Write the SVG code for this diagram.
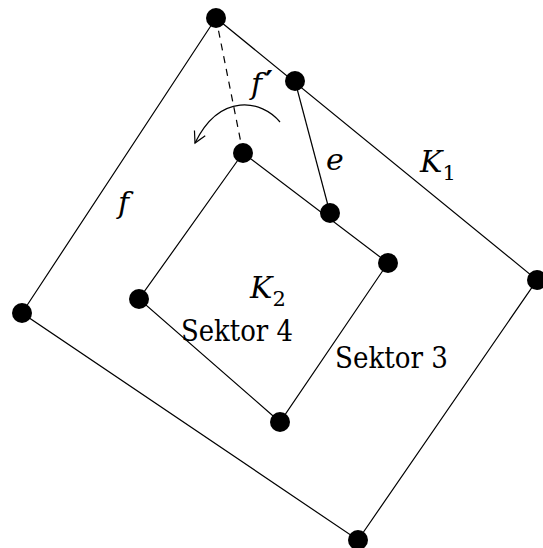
<svg xmlns="http://www.w3.org/2000/svg" width="543" height="548" viewBox="0 0 543 548">
<style>
.l{stroke:#000;stroke-width:1.2;fill:none}
.d{stroke:#000;stroke-width:1.2;fill:none;stroke-dasharray:7,6}
.n{fill:#000}
text{font-size:30px;fill:#000}
.m{font-style:italic}
.s{font-size:21px;font-style:normal}
.p{font-size:30px;font-style:normal;font-weight:bold}
</style>
<defs>
<marker id="ah" markerWidth="14" markerHeight="14" refX="12" refY="7" orient="auto" markerUnits="userSpaceOnUse">
<path d="M1,1 L12,7 L1,13" fill="none" stroke="#000" stroke-width="1.2"/>
</marker>
</defs>
<rect width="543" height="548" fill="#fff"/>
<g id="connectors">
<polyline class="l" points="216,18 537,280 358,540 22,313 216,18"/>
<polyline class="l" points="243,153 388,263 280,422 139,299 243,153"/>
<line class="l" x1="295" y1="81" x2="330" y2="213"/>
<line class="d" x1="216" y1="18" x2="243" y2="153"/>
<path class="l" d="M280,122 C262,100 220,92 195,143" marker-end="url(#ah)"/>
</g>
<g id="n1"><circle class="n" cx="216" cy="18" r="10"/></g>
<g id="n2"><circle class="n" cx="295" cy="81" r="10"/></g>
<g id="n3"><circle class="n" cx="537" cy="280" r="10"/></g>
<g id="n4"><circle class="n" cx="358" cy="540" r="10"/></g>
<g id="n5"><circle class="n" cx="22" cy="313" r="10"/></g>
<g id="n6"><circle class="n" cx="243" cy="153" r="10"/></g>
<g id="n7"><circle class="n" cx="330" cy="213" r="10"/></g>
<g id="n8"><circle class="n" cx="388" cy="263" r="10"/></g>
<g id="n9"><circle class="n" cx="280" cy="422" r="10"/></g>
<g id="n10"><circle class="n" cx="139" cy="299" r="10"/></g>
<g id="labels" font-family="'DejaVu Serif', 'Liberation Serif', serif">
<text class="m" x="251" y="94">f<tspan class="p" dx="3" dy="-2">′</tspan></text>
<text class="m" x="326" y="170">e</text>
<text class="m" x="420" y="172">K<tspan class="s" dy="8">1</tspan></text>
<text class="m" x="118" y="213">f</text>
<text class="m" x="250" y="298">K<tspan class="s" dy="8">2</tspan></text>
<text x="181" y="341" textLength="112" lengthAdjust="spacingAndGlyphs">Sektor 4</text>
<text x="335" y="368" textLength="113" lengthAdjust="spacingAndGlyphs">Sektor 3</text>
</g>
</svg>
